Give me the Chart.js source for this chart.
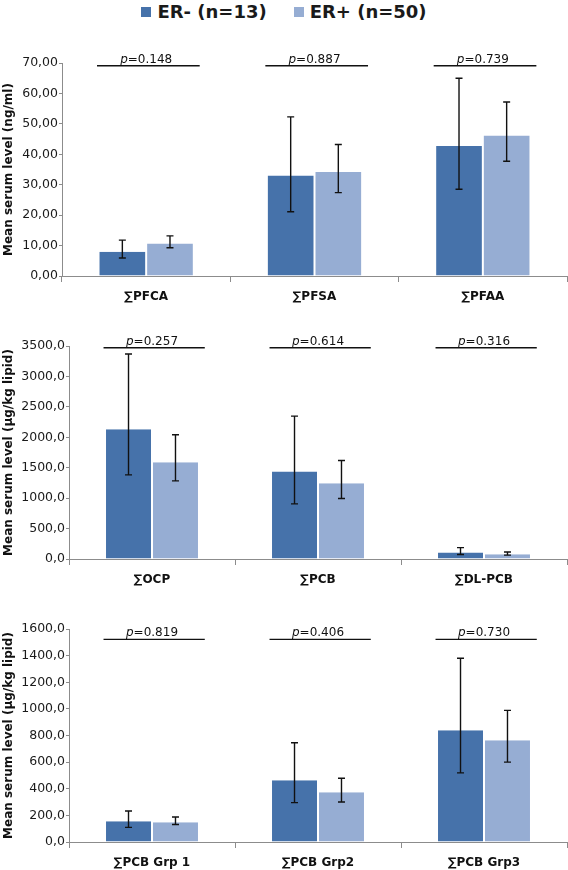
<!DOCTYPE html>
<html>
<head>
<meta charset="utf-8">
<script src="https://cdn.jsdelivr.net/npm/chart.js@4.4.0/dist/chart.umd.min.js"></script>
<style>
  html, body { margin: 0; padding: 0; background: #fff; }
  #wrap { position: relative; width: 568px; height: 870px; overflow: hidden; }
  #wrap canvas { position: absolute; left: 0; }
  #legend {
    position: absolute; top: 0; left: 0; width: 568px; height: 23px;
    display: flex; justify-content: center; align-items: center; gap: 27px;
    font: bold 18px "DejaVu Sans", sans-serif; color: #1a1a1a;
  }
  #legend span.item { display: flex; align-items: center; }
  #legend span.box { display: inline-block; width: 10px; height: 10px; margin-right: 6px; }
</style>
</head>
<body>
<div id="wrap">
  <div id="legend"></div>
  <canvas id="c1" width="568" height="310" style="top:0px"></canvas>
  <canvas id="c2" width="568" height="280" style="top:310px"></canvas>
  <canvas id="c3" width="568" height="280" style="top:590px"></canvas>
</div>
<script>
// series
const seriesNames = ['ER- (n=13)', 'ER+ (n=50)'];
const seriesColors = ['#4672AA', '#96ADD3'];

// panel 1 : perfluorinated compounds (ng/ml)
const pfCategories = ['∑PFCA', '∑PFSA', '∑PFAA'];
const pfNeg     = [8.0, 33.0, 42.7];
const pfNegLow  = [5.9, 21.1, 28.5];
const pfNegHigh = [11.8, 52.3, 65.0];
const pfPos     = [10.7, 34.2, 46.2];
const pfPosLow  = [9.3, 27.4, 37.7];
const pfPosHigh = [13.2, 43.2, 57.2];
const pfPValues = ['0.148', '0.887', '0.739'];
const pfTicks   = ['0,00', '10,00', '20,00', '30,00', '40,00', '50,00', '60,00', '70,00'];

// panel 2 : OCP / PCB (ug/kg lipid)
const ocCategories = ['∑OCP', '∑PCB', '∑DL-PCB'];
const ocNeg     = [2134, 1438, 108];
const ocNegLow  = [1382, 905, 75];
const ocNegHigh = [3368, 2348, 187];
const ocPos     = [1591, 1246, 80];
const ocPosLow  = [1284, 993, 64];
const ocPosHigh = [2041, 1619, 115];
const ocPValues = ['0.257', '0.614', '0.316'];
const ocTicks   = ['0,0', '500,0', '1000,0', '1500,0', '2000,0', '2500,0', '3000,0', '3500,0'];

// panel 3 : PCB groups (ug/kg lipid)
const grpCategories = ['∑PCB Grp 1', '∑PCB Grp2', '∑PCB Grp3'];
const grpNeg     = [156, 464, 840];
const grpNegLow  = [110, 296, 519];
const grpNegHigh = [233, 745, 1380];
const grpPos     = [148, 374, 765];
const grpPosLow  = [131, 301, 600];
const grpPosHigh = [188, 479, 989];
const grpPValues = ['0.819', '0.406', '0.730'];
const grpTicks   = ['0,0', '200,0', '400,0', '600,0', '800,0', '1000,0', '1200,0', '1400,0', '1600,0'];

const FONT = '"DejaVu Sans", sans-serif';
const AXIS_GREY = '#8c8c8c';

// error bars drawn from errLow / errHigh of each dataset
const errorBars = {
  id: 'errorBars',
  afterDatasetsDraw(chart) {
    const ctx = chart.ctx;
    const y = chart.scales.y;
    chart.data.datasets.forEach((ds, di) => {
      chart.getDatasetMeta(di).data.forEach((bar, i) => {
        const top = y.getPixelForValue(ds.errHigh[i]);
        const bot = y.getPixelForValue(ds.errLow[i]);
        ctx.save();
        ctx.strokeStyle = '#111';
        ctx.lineWidth = 1.4;
        ctx.beginPath();
        ctx.moveTo(bar.x, top); ctx.lineTo(bar.x, bot);
        ctx.moveTo(bar.x - 3.5, top); ctx.lineTo(bar.x + 3.5, top);
        ctx.moveTo(bar.x - 3.5, bot); ctx.lineTo(bar.x + 3.5, bot);
        ctx.stroke();
        ctx.restore();
      });
    });
  }
};

// p-value bracket line + label above each category
const pValueLines = {
  id: 'pValueLines',
  afterDraw(chart, args, opts) {
    const ctx = chart.ctx;
    const x = chart.scales.x, y = chart.scales.y;
    const catW = x.width / chart.data.labels.length;
    const yLine = y.getPixelForValue(opts.level);
    opts.values.forEach((p, i) => {
      const cx = x.getPixelForValue(i);
      ctx.save();
      ctx.strokeStyle = '#111';
      ctx.lineWidth = 1.4;
      ctx.beginPath();
      ctx.moveTo(cx - catW * 0.292, yLine);
      ctx.lineTo(cx + catW * 0.318, yLine);
      ctx.stroke();
      ctx.fillStyle = '#111';
      ctx.textBaseline = 'alphabetic';
      const italic = 'italic 12px ' + FONT, normal = '12px ' + FONT;
      ctx.font = italic;
      const w1 = ctx.measureText('p').width;
      ctx.font = normal;
      const rest = '=' + p;
      const w2 = ctx.measureText(rest).width;
      const x0 = cx - (w1 + w2) / 2;
      ctx.font = italic;
      ctx.fillText('p', x0, yLine - 3);
      ctx.font = normal;
      ctx.fillText(rest, x0 + w1, yLine - 3);
      ctx.restore();
    });
  }
};

function makeChart(id, cats, neg, negLo, negHi, pos, posLo, posHi, pvals, tickLabels, cfg) {
  return new Chart(document.getElementById(id), {
    type: 'bar',
    data: {
      labels: cats,
      datasets: [
        { label: seriesNames[0], data: neg, errLow: negLo, errHigh: negHi,
          backgroundColor: seriesColors[0] },
        { label: seriesNames[1], data: pos, errLow: posLo, errHigh: posHi,
          backgroundColor: seriesColors[1] }
      ]
    },
    options: {
      responsive: false,
      devicePixelRatio: 1,
      animation: false,
      layout: { padding: { top: cfg.padTop, right: 1, bottom: 0, left: 0 } },
      datasets: {
        bar: {
          categoryPercentage: 0.566,
          barPercentage: 1,
          borderColor: 'rgba(255,255,255,0.9)',
          borderWidth: { left: 1, right: 1, top: 0, bottom: 0 }
        }
      },
      plugins: {
        legend: { display: false },
        tooltip: { enabled: false },
        pValueLines: { values: pvals, level: cfg.pLevel }
      },
      scales: {
        x: {
          afterFit: s => { s.height = cfg.xHeight; },
          grid: { offset: true, drawOnChartArea: false, tickLength: 6, color: AXIS_GREY },
          border: { color: AXIS_GREY },
          ticks: { color: '#111', padding: 8, font: { family: FONT, size: 12, weight: 'bold' } }
        },
        y: {
          min: 0,
          max: cfg.max,
          afterFit: s => { s.width = cfg.yWidth; },
          grid: { drawOnChartArea: false, tickLength: 3, color: AXIS_GREY },
          border: { color: AXIS_GREY },
          ticks: {
            stepSize: cfg.step,
            padding: 1,
            color: '#1a1a1a',
            font: { family: FONT, size: 12.5 },
            callback: (v, i) => tickLabels[i]
          },
          title: {
            display: true,
            text: cfg.title,
            color: '#111',
            padding: { top: 2, bottom: 0 },
            font: { family: FONT, size: 12, weight: 'bold' }
          }
        }
      }
    },
    plugins: [errorBars, pValueLines]
  });
}

const chart1 = makeChart('c1', pfCategories, pfNeg, pfNegLow, pfNegHigh, pfPos, pfPosLow, pfPosHigh,
  pfPValues, pfTicks,
  { max: 70, step: 10, title: 'Mean serum level (ng/ml)', padTop: 63, xHeight: 34, yWidth: 62, pLevel: 69.1 });

makeChart('c2', ocCategories, ocNeg, ocNegLow, ocNegHigh, ocPos, ocPosLow, ocPosHigh,
  ocPValues, ocTicks,
  { max: 3500, step: 500, title: 'Mean serum level (µg/kg lipid)', padTop: 36, xHeight: 31, yWidth: 69, pLevel: 3472 });

makeChart('c3', grpCategories, grpNeg, grpNegLow, grpNegHigh, grpPos, grpPosLow, grpPosHigh,
  grpPValues, grpTicks,
  { max: 1600, step: 200, title: 'Mean serum level (µg/kg lipid)', padTop: 39, xHeight: 28, yWidth: 69, pLevel: 1522 });

// legend built from the first chart's datasets
const legend = document.getElementById('legend');
chart1.data.datasets.forEach(ds => {
  const item = document.createElement('span');
  item.className = 'item';
  const box = document.createElement('span');
  box.className = 'box';
  box.style.background = ds.backgroundColor;
  item.appendChild(box);
  item.appendChild(document.createTextNode(ds.label));
  legend.appendChild(item);
});
</script>
</body>
</html>
